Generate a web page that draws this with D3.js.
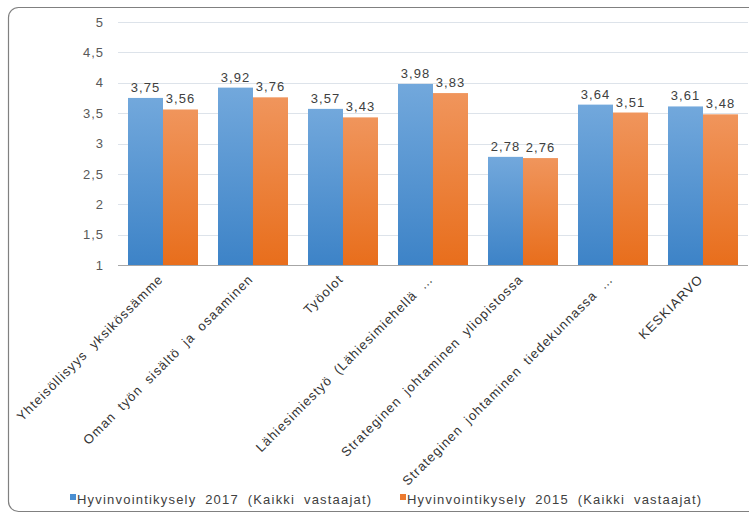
<!DOCTYPE html>
<html><head><meta charset="utf-8">
<script src="https://cdn.jsdelivr.net/npm/d3@7"></script>
<style>
body{margin:0;background:#fff;}
text{font-family:"Liberation Sans",Arial,sans-serif;}
</style></head>
<body><svg id="c" width="749" height="516"></svg>
<script>
const categories = ["Yhteisöllisyys yksikössämme","Oman työn sisältö ja osaaminen","Työolot","Lähiesimiestyö (Lähiesimiehellä …","Strateginen johtaminen yliopistossa","Strateginen johtaminen tiedekunnassa …","KESKIARVO"];
const series2017 = [3.75,3.92,3.57,3.98,2.78,3.64,3.61];
const series2015 = [3.56,3.76,3.43,3.83,2.76,3.51,3.48];
const seriesNames = ["Hyvinvointikysely 2017 (Kaikki vastaajat)","Hyvinvointikysely 2015 (Kaikki vastaajat)"];
const yTicks = [1,1.5,2,2.5,3,3.5,4,4.5,5];

(function(){
const svg = d3.select("#c");
const defs = svg.append("defs");
function grad(id,t,b){
  const g = defs.append("linearGradient").attr("id",id).attr("x1",0).attr("y1",0).attr("x2",0).attr("y2",1);
  g.append("stop").attr("offset","0%").attr("stop-color",t);
  g.append("stop").attr("offset","100%").attr("stop-color",b);
}
grad("gb","#72a8dc","#3d83c7");
grad("go","#f0955c","#e86e1c");

svg.append("rect").attr("x",8.5).attr("y",7.5).attr("width",780).attr("height",504).attr("rx",10)
  .attr("fill","none").attr("stroke","#808080").attr("stroke-width",1.2);

const pl=118,pr=748,pt=22,pb=265;
const x = d3.scaleBand().domain(categories).range([pl,pr]).paddingInner(20/90).paddingOuter(10/90);
const xs = d3.scaleBand().domain([0,1]).range([0,x.bandwidth()]);
const y = d3.scaleLinear().domain([1,5]).range([pb,pt]);
const fmt = v => d3.format(".2f")(v).replace(".",",");
const tfmt = v => String(v).replace(".",",");

svg.append("g").selectAll("line").data(yTicks.filter(t=>t>1)).join("line")
  .attr("x1",pl).attr("x2",pr).attr("y1",d=>Math.round(y(d))+0.5).attr("y2",d=>Math.round(y(d))+0.5)
  .attr("stroke","#dde3ea").attr("stroke-width",1);

const ya = svg.append("g").attr("transform",`translate(${pl},0)`)
  .call(d3.axisLeft(y).tickValues(yTicks).tickFormat(tfmt).tickSize(0).tickPadding(14));
ya.select(".domain").remove();
ya.selectAll("text").attr("font-size",13).attr("fill","#595959").attr("font-family","Liberation Sans, Arial, sans-serif").attr("letter-spacing","1px");

const cols=["url(#gb)","url(#go)"];
const data=[series2017,series2015];
const grp = svg.append("g");
data.forEach((s,si)=>{
  grp.selectAll(null).data(s).join("rect")
    .attr("x",(d,i)=>x(categories[i])+xs(si))
    .attr("width",xs.bandwidth())
    .attr("y",d=>y(d)).attr("height",d=>pb-y(d))
    .attr("fill",cols[si]);
  grp.selectAll(null).data(s).join("text")
    .attr("x",(d,i)=>x(categories[i])+xs(si)+xs.bandwidth()/2)
    .attr("y",d=>y(d)-6)
    .attr("text-anchor","middle").attr("font-size",13).attr("fill","#404040").attr("letter-spacing","1px")
    .text(d=>fmt(d));
});

svg.append("line").attr("x1",pl).attr("x2",pr).attr("y1",pb+0.5).attr("y2",pb+0.5).attr("stroke","#a6a6a6");

svg.append("g").selectAll("text").data(categories).join("text")
  .attr("transform",d=>`translate(${x(d)+x.bandwidth()/2+1},${pb+15}) rotate(-45)`)
  .attr("text-anchor","end").attr("font-size",13).attr("fill","#333")
  .attr("letter-spacing","1.1px").attr("word-spacing","4px")
  .text(d=>d);

const lg = svg.append("g");
const lx=[70,400];
seriesNames.forEach((n,i)=>{
  lg.append("rect").attr("x",lx[i]).attr("y",494).attr("width",6).attr("height",6).attr("fill",i?"#ec7a2f":"#4a8fd2");
  lg.append("text").attr("x",lx[i]+7).attr("y",504).attr("font-size",13).attr("fill","#404040")
    .attr("letter-spacing","1.2px").attr("word-spacing","4px").text(n);
});
})();
</script></body></html>
